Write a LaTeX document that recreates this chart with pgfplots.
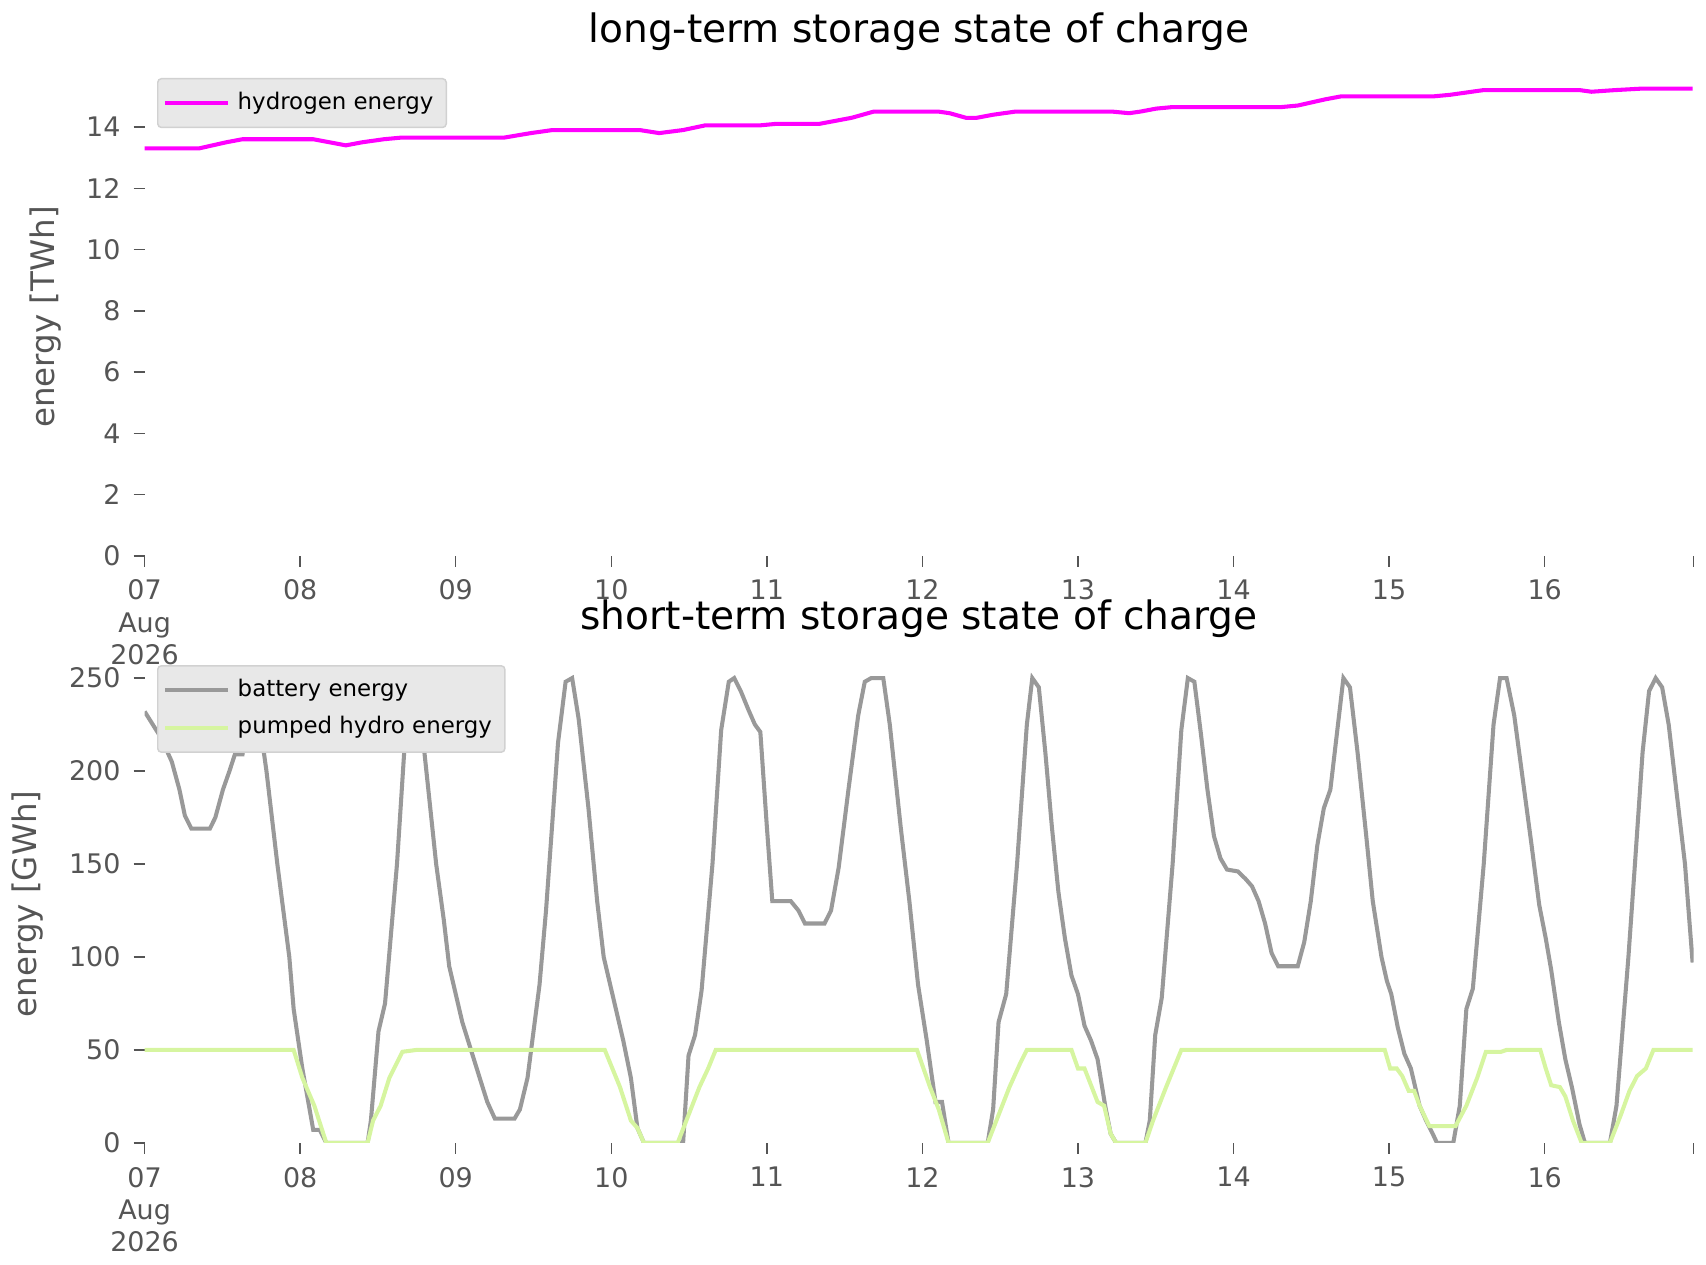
\documentclass[border=0pt]{standalone}
\usepackage{pgfplots}
\pgfplotsset{compat=1.18}
\usepackage{fontspec}
\setmainfont{DejaVu Sans}
\definecolor{tk}{RGB}{85,85,85}
\definecolor{bat}{RGB}{153,153,153}
\definecolor{phs}{RGB}{214,245,160}
\definecolor{hyd}{RGB}{255,0,255}
\pgfplotsset{
 base/.style={scale only axis, width=14.75cm, height=4.55cm, anchor=north west,
  axis line style={draw=none}, tick align=outside, tick style={tk, thin},
  major tick length=3pt, xtick pos=bottom, ytick pos=left,
  xmin=0, xmax=9.958, xtick={0,1,2,3,4,5,6,7,8,9,9.958},
  xticklabels={07\\Aug\\2026,08,09,10,11,12,13,14,15,16,},
  xticklabel style={align=center, text=tk, font=\fontsize{7.3}{8.8}\selectfont, anchor=north},
  yticklabel style={text=tk, font=\fontsize{7.3}{8.8}\selectfont},
  /pgf/number format/assume math mode=true,
  ylabel style={text=tk, font=\fontsize{8.8}{10}\selectfont},
  title style={font=\fontsize{10.6}{12}\selectfont, yshift=-2pt},
  legend style={at={(0.008,1)}, anchor=north west, fill=black!9, draw=black!18, rounded corners=1pt,
   font=\fontsize{6.2}{7.5}\selectfont, row sep=0pt, inner sep=1.5pt},
  legend image post style={line width=1.1pt},
  legend cell align=left,
  x filter/.expression={(x-125)/143},
 }
}
\begin{document}
\begin{tikzpicture}
\begin{axis}[base, at={(0,0)}, ymin=0, ymax=15.6, ytick={0,2,...,14},
 title={long-term storage state of charge}, ylabel={energy [TWh]}]
\addplot[color=hyd, line width=1.1pt] coordinates {
(125,13.3)(175,13.3)(200,13.5)(215,13.6)(280,13.6)(295,13.5)(310,13.4)(325,13.5)(345,13.6)(360,13.65)(455,13.65)(480,13.8)(500,13.9)(580,13.9)(598,13.8)(620,13.9)(640,14.05)(690,14.05)(705,14.1)(745,14.1)(775,14.3)(795,14.5)(855,14.5)(865,14.45)(880,14.3)(890,14.3)(905,14.4)(925,14.5)(1015,14.5)(1030,14.45)(1040,14.5)(1055,14.6)(1070,14.65)(1170,14.65)(1185,14.7)(1210,14.9)(1225,15.0)(1310,15.0)(1325,15.05)(1345,15.15)(1355,15.2)(1445,15.2)(1455,15.15)(1475,15.2)(1500,15.25)(1548,15.25)};
\addlegendentry{hydrogen energy}
\end{axis}
\begin{axis}[base, at={(0,-5.59cm)}, ymin=0, ymax=257, ytick={0,50,...,250},
 title={short-term storage state of charge}, ylabel={energy [GWh]}]
\addplot[color=bat, line width=1.1pt] coordinates {
(125,232)(140,218)(150,205)(157,190)(162,176)(168,169)(185,169)(190,175)(197,190)(203,200)(208,209)(215,209)(225,250)(237,200)(247,150)(258,100)(262,72)(270,40)(280,7)(286,7)(292,0)(330,0)(333,12)(340,60)(346,75)(357,150)(368,250)(375,250)(384,200)(393,150)(400,120)(405,95)(411,80)(417,65)(425,50)(433,35)(440,22)(447,13)(465,13)(470,18)(477,35)(488,85)(494,125)(505,215)(512,248)(518,250)(524,228)(533,180)(541,130)(547,100)(555,80)(565,55)(572,35)(578,8)(584,0)(620,0)(625,47)(631,58)(637,82)(647,150)(655,222)(662,248)(667,250)(673,243)(680,233)(686,225)(691,221)(697,170)(702,130)(719,130)(726,125)(732,118)(750,118)(756,125)(763,148)(772,190)(781,230)(787,248)(793,250)(804,250)(810,225)(820,170)(828,130)(836,85)(844,55)(852,22)(858,22)(864,0)(900,0)(905,18)(910,65)(917,80)(927,150)(936,225)(941,250)(947,245)(953,210)(959,170)(965,135)(971,110)(977,90)(983,80)(989,63)(995,55)(1001,45)(1008,20)(1013,5)(1018,0)(1045,0)(1049,12)(1054,58)(1060,78)(1070,150)(1078,222)(1084,250)(1090,248)(1096,220)(1102,190)(1108,165)(1114,153)(1120,147)(1130,146)(1137,142)(1143,138)(1149,130)(1155,118)(1161,102)(1167,95)(1185,95)(1191,108)(1197,130)(1203,160)(1209,180)(1215,190)(1221,220)(1227,250)(1233,245)(1240,210)(1248,165)(1254,130)(1262,100)(1267,87)(1271,80)(1277,62)(1283,48)(1289,40)(1297,20)(1303,12)(1309,5)(1313,0)(1328,0)(1334,20)(1340,72)(1346,83)(1356,150)(1365,225)(1371,250)(1377,250)(1384,230)(1392,195)(1400,160)(1407,128)(1413,110)(1418,93)(1425,65)(1431,45)(1437,30)(1444,10)(1449,0)(1472,0)(1478,20)(1489,100)(1495,150)(1502,210)(1508,243)(1514,250)(1520,245)(1526,225)(1533,190)(1541,150)(1548,97)};
\addlegendentry{battery energy}
\addplot[color=phs, line width=1.1pt] coordinates {
(125,50)(262,50)(270,35)(281,20)(292,0)(330,0)(335,12)(342,20)(350,35)(362,49)(375,50)(548,50)(562,30)(572,12)(578,8)(584,0)(615,0)(625,15)(635,30)(643,40)(650,50)(835,50)(847,30)(855,18)(864,0)(900,0)(910,15)(920,30)(930,43)(936,50)(977,50)(983,40)(989,40)(1001,22)(1007,20)(1013,5)(1018,0)(1045,0)(1052,12)(1064,30)(1078,50)(1265,50)(1270,40)(1276,40)(1281,36)(1287,28)(1292,28)(1297,20)(1306,9)(1330,9)(1340,20)(1350,35)(1358,49)(1372,49)(1377,50)(1408,50)(1413,40)(1418,31)(1426,30)(1431,25)(1438,12)(1446,0)(1472,0)(1482,15)(1490,28)(1497,36)(1505,40)(1512,50)(1548,50)};
\addlegendentry{pumped hydro energy}
\end{axis}
\end{tikzpicture}
\end{document}
